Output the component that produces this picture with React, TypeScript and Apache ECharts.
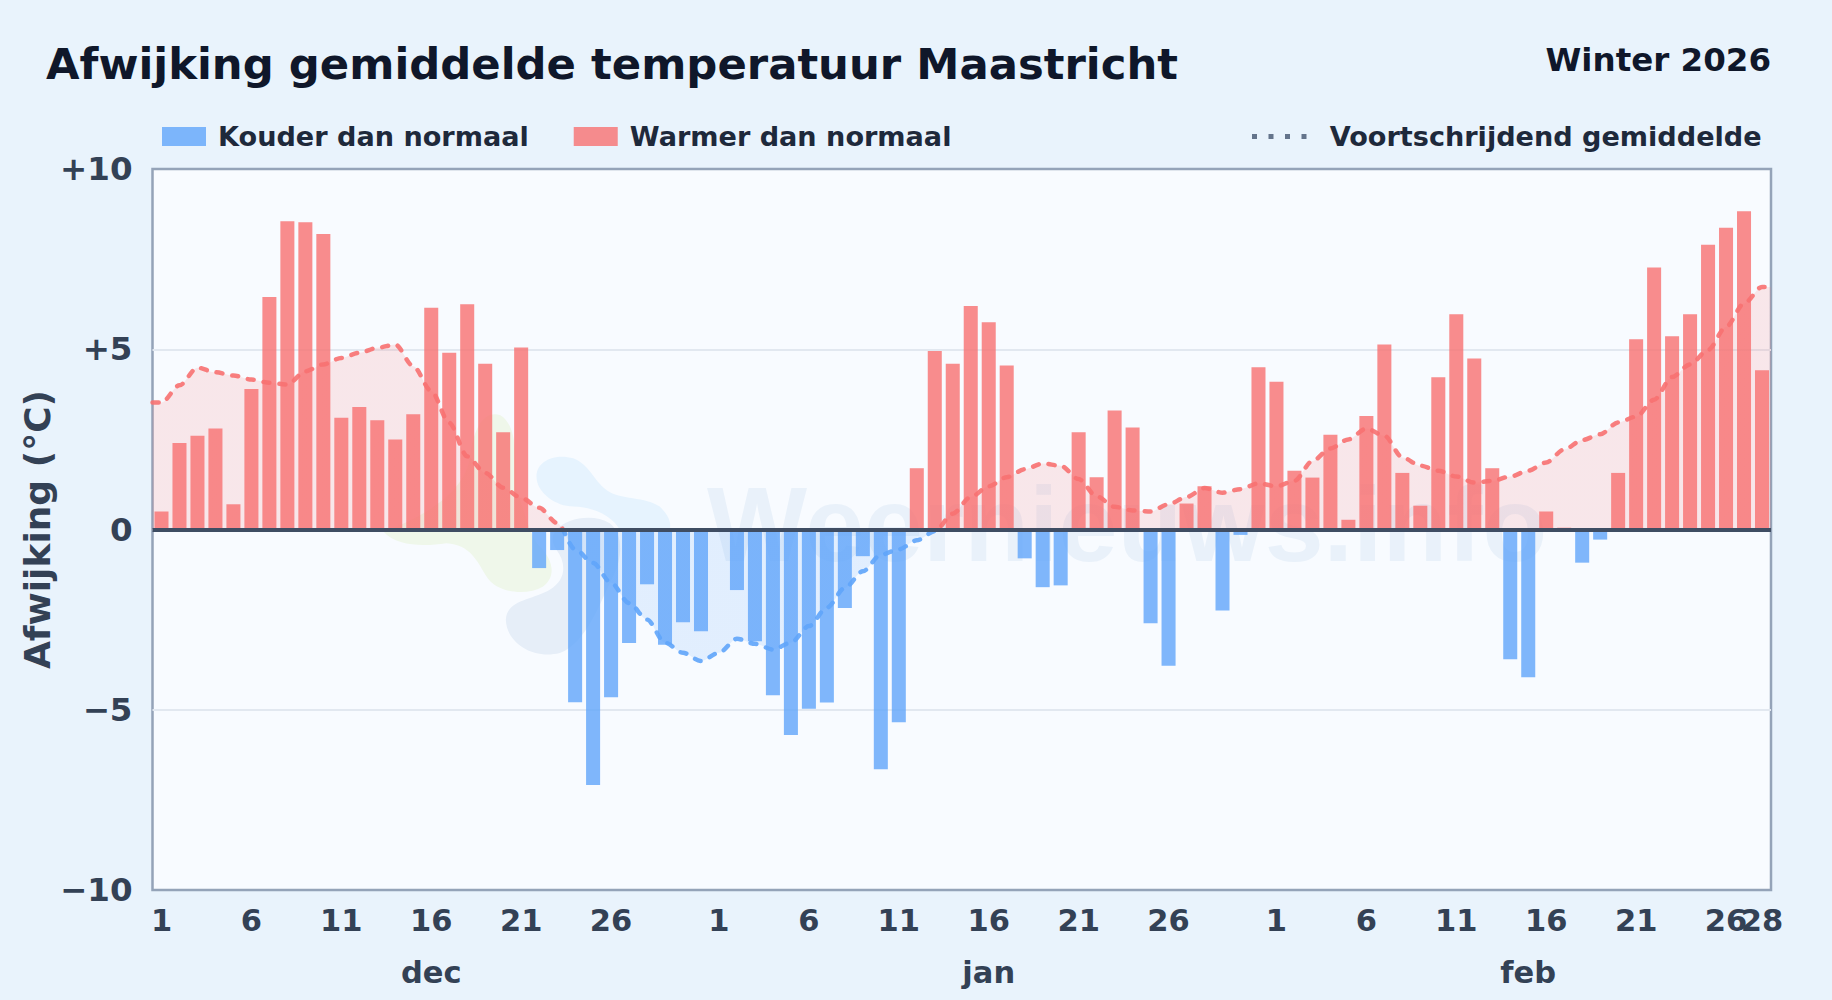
import React, { useEffect, useRef } from "react";
import * as echarts from "echarts";

const monthNames = ["dec", "jan", "feb"];
const monthLengths = [31, 31, 28];

const decDeviation = [0.5, 2.4, 2.6, 2.8, 0.7, 3.9, 6.45, 8.55, 8.52, 8.2, 3.1, 3.4, 3.03, 2.5, 3.2, 6.15, 4.9, 6.25, 4.6, 2.7, 5.05, -1.07, -0.57, -4.79, -7.09, -4.65, -3.15, -1.52, -3.2, -2.57, -2.82];
const janDeviation = [0, -1.68, -3.1, -4.6, -5.7, -4.97, -4.8, -2.18, -0.74, -6.65, -5.35, 1.7, 4.95, 4.6, 6.2, 5.75, 4.55, -0.8, -1.6, -1.55, 2.7, 1.45, 3.3, 2.83, -2.6, -3.78, 0.72, 1.2, -2.25, -0.15, 4.5];
const febDeviation = [4.1, 1.63, 1.44, 2.63, 0.27, 3.15, 5.13, 1.57, 0.66, 4.22, 5.97, 4.74, 1.7, -3.6, -4.1, 0.5, 0.05, -0.92, -0.28, 1.57, 5.28, 7.27, 5.36, 5.97, 7.9, 8.37, 8.83, 4.42];

const decAverage = [3.52, 4.0, 4.49, 4.36, 4.27, 4.16, 4.07, 4.02, 4.39, 4.58, 4.76, 4.9, 5.04, 5.13, 4.53, 3.84, 2.96, 2.03, 1.57, 1.16, 0.88, 0.6, 0.18, -0.55, -0.93, -1.48, -2.04, -2.5, -3.14, -3.42, -3.65];
const janAverage = [-3.42, -3.03, -3.17, -3.33, -3.14, -2.68, -2.17, -1.62, -1.16, -0.7, -0.55, -0.3, -0.05, 0.44, 0.9, 1.2, 1.45, 1.67, 1.83, 1.77, 1.4, 0.92, 0.63, 0.53, 0.5, 0.7, 0.9, 1.15, 1.02, 1.12, 1.28];
const febAverage = [1.2, 1.35, 1.9, 2.25, 2.5, 2.8, 2.6, 2.0, 1.77, 1.63, 1.47, 1.3, 1.35, 1.47, 1.63, 1.86, 2.22, 2.48, 2.64, 2.97, 3.13, 3.6, 4.23, 4.58, 4.98, 5.62, 6.27, 6.73];

const yTickLabels: Record<string, string> = { "10": "+10", "5": "+5", "0": "0", "-5": "\u22125", "-10": "\u221210" };

const FONT = "DejaVu Sans";
const RED = "#f87171";
const BLUE = "#60a5fa";
const dotsIcon = "path://M0 0h5v5H0zM16.5 0h5v5h-5zM33 0h5v5h-5zM49.5 0h5v5h-5z";

const GRID = { left: 152.5, top: 169, width: 1618.5, height: 721 };

const blobTop = "M530 260C530 210 590 190 640 205C690 225 700 270 740 300C780 330 860 320 900 350C930 380 935 400 930 420L780 420C760 380 700 350 640 350C590 350 530 310 530 260Z";
const blobBottom = "M590 420C620 385 700 370 750 400C790 430 790 500 760 560C720 640 680 760 600 790C520 810 440 760 438 690C440 630 520 630 570 600C620 570 620 520 590 480C570 450 580 430 590 420Z";
const blobGreen = "M70 425C110 470 190 470 260 460C330 465 350 510 380 560C410 610 500 620 550 590C590 560 580 510 540 470C510 440 500 380 470 300C470 200 470 100 420 75C370 60 340 120 330 200C320 300 200 380 70 425Z";
echarts.graphic.registerShape("blobTop", echarts.graphic.extendPath(blobTop, {}));
echarts.graphic.registerShape("blobBottom", echarts.graphic.extendPath(blobBottom, {}));
echarts.graphic.registerShape("blobGreen", echarts.graphic.extendPath(blobGreen, {}));

const splitAtZero = (above: string, below: string) =>
  new echarts.graphic.LinearGradient(
    0,
    GRID.top,
    0,
    GRID.top + GRID.height,
    [
      { offset: 0, color: above },
      { offset: 0.5, color: above },
      { offset: 0.5, color: below },
      { offset: 1, color: below },
    ],
    true
  );

const tickLabelStyle = {
  margin: 15,
  fontFamily: FONT,
  fontSize: 30.5,
  fontWeight: "bold",
  color: "#334155",
};
const bareAxis = {
  type: "category",
  axisLine: { show: false },
  axisTick: { show: false },
  splitLine: { show: false },
};

export default function App() {
  const ref = useRef<HTMLDivElement>(null);

  useEffect(() => {
    document.body.style.margin = "0";
    const chart = echarts.init(ref.current!, undefined, { renderer: "svg" });

    const deviation = [...decDeviation, ...janDeviation, ...febDeviation];
    const average = [...decAverage, ...janAverage, ...febAverage];
    const dayNumbers = monthLengths.flatMap((n) => Array.from({ length: n }, (_, i) => i + 1));
    const monthCentre = [15, 46, 76];
    const monthCats = dayNumbers.map((_, i) => {
      const k = monthCentre.indexOf(i);
      return k >= 0 ? monthNames[k] : "";
    });
    const n = deviation.length;
    const finalDayCats = dayNumbers.map((d, i) => (i === n - 1 ? String(d) : ""));
    const avgPoints: number[][] = [
      [0, average[0]],
      ...average.map((v, i) => [i + 0.5, v]),
      [n, average[n - 1]],
    ];

    chart.setOption({
      animation: false,
      backgroundColor: "#e9f3fc",
      textStyle: { fontFamily: FONT },
      title: [
        {
          text: "Afwijking gemiddelde temperatuur Maastricht",
          left: 46,
          top: 42,
          padding: 0,
          textStyle: { fontFamily: FONT, fontSize: 43.35, fontWeight: "bold", color: "#0f172a" },
        },
        {
          text: "Winter 2026",
          right: 61,
          top: 43,
          padding: 0,
          textStyle: { fontFamily: FONT, fontSize: 32.5, fontWeight: "bold", color: "#0f172a" },
        },
      ],
      legend: [
        {
          left: 162,
          top: 123,
          padding: 0,
          itemWidth: 44,
          itemHeight: 19,
          itemGap: 45,
          icon: "rect",
          data: ["Kouder dan normaal", "Warmer dan normaal"],
          textStyle: { fontFamily: FONT, fontSize: 27.1, fontWeight: "bold", color: "#1e293b", padding: [0, 0, 0, 7] },
        },
        {
          left: 1252,
          top: 123,
          padding: 0,
          itemWidth: 55,
          itemHeight: 5,
          data: [
            { name: "Voortschrijdend gemiddelde", icon: dotsIcon, itemStyle: { color: "#64748b", opacity: 1 } },
          ],
          textStyle: { fontFamily: FONT, fontSize: 27.1, fontWeight: "bold", color: "#1e293b", padding: [0, 0, 0, 18] },
        },
      ],
      grid: {
        ...GRID,
        show: true,
        backgroundColor: "#f8fbff",
        borderColor: "#94a3b8",
        borderWidth: 2.5,
      },
      xAxis: [
        {
          ...bareAxis,
          data: dayNumbers.map(String),
          axisLabel: {
            ...tickLabelStyle,
            interval: (i: number) => dayNumbers[i] % 5 === 1 && dayNumbers[i] !== 31,
            showMaxLabel: true,
            hideOverlap: false,
          },
        },
        {
          ...bareAxis,
          data: monthCats,
          position: "bottom",
          offset: 52,
          axisLabel: { ...tickLabelStyle, interval: 0 },
        },
        { type: "value", min: 0, max: n, show: false },
        {
          ...bareAxis,
          data: finalDayCats,
          position: "bottom",
          axisLabel: { ...tickLabelStyle, interval: (i: number) => i === n - 1, showMaxLabel: true },
        },
      ],
      yAxis: {
        type: "value",
        min: -10,
        max: 10,
        interval: 5,
        name: "Afwijking (\u00b0C)",
        nameLocation: "middle",
        nameGap: 97,
        nameMoveOverlap: false,
        nameTextStyle: { fontFamily: FONT, fontSize: 36, fontWeight: "bold", color: "#334155" },
        axisLine: { show: false },
        axisTick: { show: false },
        splitLine: { show: true, showMinLine: false, showMaxLine: false, lineStyle: { color: "#e2e8f0", width: 2 } },
        axisLabel: {
          formatter: (v: number) => yTickLabels[String(v)] ?? String(v),
          margin: 20,
          fontFamily: FONT,
          fontSize: 32.5,
          fontWeight: "bold",
          color: "#334155",
        },
      },
      series: [
        {
          name: "Kouder dan normaal",
          type: "bar",
          stack: "dev",
          barWidth: "78%",
          itemStyle: { color: BLUE, opacity: 0.8 },
          data: deviation.map((v) => (v < 0 ? v : null)),
        },
        {
          name: "Warmer dan normaal",
          type: "bar",
          stack: "dev",
          barWidth: "78%",
          itemStyle: { color: RED, opacity: 0.8 },
          data: deviation.map((v) => (v > 0 ? v : null)),
          markLine: {
            silent: true,
            symbol: "none",
            label: { show: false },
            lineStyle: { color: "#3f4d63", width: 4, type: "solid" },
            data: [{ yAxis: 0 }],
          },
        },
        {
          name: "Voortschrijdend gemiddelde",
          type: "line",
          xAxisIndex: 2,
          z: 4,
          showSymbol: false,
          smooth: 0.3,
          smoothMonotone: "x",
          lineStyle: { width: 4.5, type: [6, 10], cap: "round", color: splitAtZero(RED, BLUE), opacity: 0.9 },
          areaStyle: { color: splitAtZero(RED, BLUE), opacity: 0.15 },
          data: avgPoints,
        },
      ],
      graphic: {
        elements: [
          { type: "blobGreen", x: 360, y: 390, scaleX: 1 / 3, scaleY: 1 / 3, z: 1, silent: true, style: { fill: "#eff7ea" } },
          { type: "blobBottom", x: 360, y: 390, scaleX: 1 / 3, scaleY: 1 / 3, z: 1, silent: true, style: { fill: "#e6eef8" } },
          { type: "blobTop", x: 360, y: 390, scaleX: 1 / 3, scaleY: 1 / 3, z: 1, silent: true, style: { fill: "#e6f3fe" } },
          {
            type: "text",
            x: 707,
            y: 471,
            z: 1,
            silent: true,
            style: {
              text: "Weernieuws.info",
              fontFamily: "Liberation Sans",
              fontSize: 106,
              fontWeight: "bold",
              fill: "#e9f1fa",
            },
          },
        ],
      },
    });
    return () => chart.dispose();
  }, []);

  return <div ref={ref} style={{ width: 1832, height: 1000 }} />;
}
